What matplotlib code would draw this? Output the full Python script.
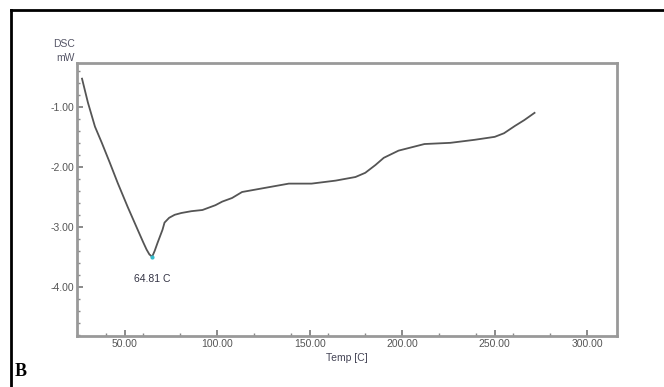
import numpy as np
import matplotlib
matplotlib.use("Agg")
import matplotlib.pyplot as plt
from matplotlib.lines import Line2D
from matplotlib.ticker import MultipleLocator

# DSC curve
temp = [26.9, 30.1, 33.9, 37.6, 41.9, 46.2, 51.6, 57.0, 60.0, 61.8, 63.3, 64.81,
        66.2, 67.7, 70.4, 71.5, 74.0, 77.0, 80.6, 86.0, 92.0, 99.0, 102.7, 108.0,
        113.4, 126.0, 138.7, 151.0, 164.0, 174.7, 180.0, 185.5, 190.0, 198.0,
        212.0, 226.0, 239.0, 250.0, 255.0, 260.8, 266.0, 271.5]
dsc = [-0.53, -0.93, -1.33, -1.60, -1.93, -2.27, -2.67, -3.05, -3.26, -3.38, -3.46, -3.50,
       -3.40, -3.27, -3.05, -2.93, -2.85, -2.80, -2.77, -2.74, -2.72, -2.64, -2.58, -2.52,
       -2.42, -2.35, -2.28, -2.28, -2.23, -2.17, -2.10, -1.97, -1.85, -1.73,
       -1.62, -1.60, -1.55, -1.50, -1.44, -1.32, -1.22, -1.10]
peak_t = 64.81
peak_v = -3.50
xticks = [50, 100, 150, 200, 250, 300]
yticks = [-1, -2, -3, -4]

plt.rcParams['font.family'] = ['Liberation Sans', 'DejaVu Sans']

fig = plt.figure(figsize=(6.64, 3.87), dpi=100)
ax = fig.add_axes([0.116, 0.132, 0.813, 0.705])

ax.plot(temp, dsc, color='#555555', lw=1.3)
ax.plot([peak_t], [peak_v], marker='o', ms=2, color='#33bbcc')
ax.annotate('%.2f C' % peak_t, (peak_t, peak_v), xytext=(0, -16),
            textcoords='offset points', ha='center', va='center',
            fontsize=7.5, color='#333344')

ax.set_xlim(24.2, 316)
ax.set_ylim(-4.82, -0.27)
ax.set_xticks(xticks)
ax.set_xticklabels(['%.2f' % v for v in xticks])
ax.set_yticks(yticks)
ax.set_yticklabels(['%.2f' % v for v in yticks])
ax.xaxis.set_minor_locator(MultipleLocator(20))
ax.yaxis.set_minor_locator(MultipleLocator(0.2))
ax.tick_params(which='major', direction='in', length=4, width=1.2, color='#777777',
               labelsize=7.5, labelcolor='#555555', pad=2)
ax.tick_params(which='minor', direction='in', length=2, width=1, color='#888888')
for s in ax.spines.values():
    s.set_color('#999999')
    s.set_linewidth(2)

ax.set_xlabel('Temp [C]', fontsize=7.5, color='#444455', labelpad=3)
fig.text(0.113, 0.886, 'DSC', ha='right', va='center', fontsize=7.5, color='#555566')
fig.text(0.113, 0.850, 'mW', ha='right', va='center', fontsize=7.5, color='#555566')

# outer frame of the panel
fig.add_artist(Line2D([11 / 664, 11 / 664], [0, 1 - 10 / 387], transform=fig.transFigure,
                      color='black', lw=2))
fig.add_artist(Line2D([11 / 664, 1], [1 - 10 / 387, 1 - 10 / 387], transform=fig.transFigure,
                      color='black', lw=2))
fig.text(15 / 664, 1 - 372 / 387, 'B', fontsize=13, fontweight='bold',
         family='Liberation Serif', ha='left', va='center')

fig.savefig('out.png', dpi=100)
